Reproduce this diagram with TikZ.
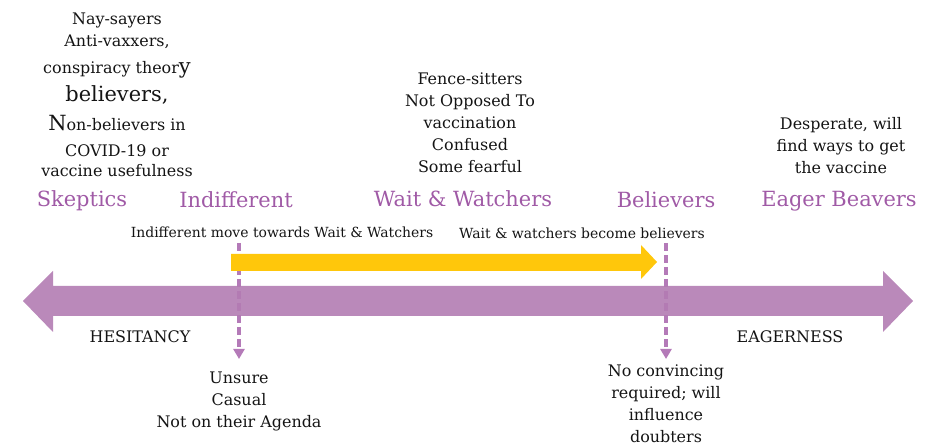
\documentclass[tikz,border=0pt]{standalone}
\usepackage{fontspec}
\setmainfont{DejaVu Serif}
\usetikzlibrary{arrows.meta}
\definecolor{inkblack}{RGB}{20,20,20}
\definecolor{groupviolet}{RGB}{160,90,166}
\definecolor{barviolet}{RGB}{179,124,179}
\definecolor{probeviolet}{RGB}{180,122,184}
\definecolor{pushyellow}{RGB}{255,199,11}

\begin{document}
\begin{tikzpicture}[x=1bp,y=-1bp]
\tikzstyle{every node}=[inner sep=0pt,text=inkblack];
\tikzstyle{group}=[font=\fontsize{21}{21}\selectfont,text=groupviolet,anchor=base];
\tikzstyle{note}=[font=\fontsize{16}{22}\selectfont,align=center,anchor=north];
\tikzstyle{movetext}=[font=\fontsize{14}{14}\selectfont,anchor=base];
\tikzstyle{endword}=[font=\fontsize{16}{16}\selectfont,anchor=base];
\tikzstyle{probe}=[draw=probeviolet,line width=3.2bp,dash pattern=on 8bp off 4bp,
  -{Triangle[width=11bp,length=10bp]}];
\useasboundingbox (0,0) rectangle (925,447);

\node[group] (skeptics) at (82,207) {Skeptics};
\node[group] (indiff) at (236,208) {Indifferent};
\node[group] (waiters) at (463,207) {Wait \& Watchers};
\node[group] (believers) at (666,208) {Believers};
\node[group] (beavers) at (839,207) {Eager Beavers};

\node[note] (skepnote) at (117,13) {Nay-sayers\\
  Anti-vaxxers,\\[5bp]
  conspiracy theor{\fontsize{21}{21}\selectfont y}\\[6bp]
  {\fontsize{21}{21}\selectfont believers,}\\[7bp]
  {\fontsize{21}{21}\selectfont N}on-believers in\\[4bp]
  COVID-19 or\\[-2bp]
  vaccine usefulness};
\node[note] (waitnote) at (470,73) {Fence-sitters\\ Not Opposed To\\ vaccination\\ Confused\\ Some fearful};
\node[note] (eagernote) at (841,117) {Desperate, will\\ find ways to get\\ the vaccine};
\node[note] (unsure) at (239,372) {Unsure\\ Casual\\ Not on their Agenda};
\node[note] (convince) at (666,365) {No convincing\\ required; will\\ influence\\ doubters};

\node[movetext] (toward) at (282,238) {Indifferent move towards Wait \& Watchers};
\node[movetext] (become) at (582,239) {Wait \& watchers become believers};

\coordinate (indtop) at (239,243);
\coordinate (beltop) at (666,243);
\draw[probe,shorten >=13bp] (indtop) -- (unsure.north);
\draw[probe,shorten >=6bp] (beltop) -- (convince.north);

\fill[pushyellow] (231,254) -- (641,254) -- (641,245) -- (657,262) -- (641,279)
  -- (641,271) -- (231,271) -- cycle;

\fill[barviolet,opacity=0.9] (23,301) -- (53,271) -- (53,286) -- (883,286) -- (883,271)
  -- (913,301) -- (883,332) -- (883,316) -- (53,316) -- (53,332) -- cycle;

\node[endword] (hesit) at (140,343) {HESITANCY};
\node[endword] (eager) at (790,343) {EAGERNESS};
\end{tikzpicture}
\end{document}
